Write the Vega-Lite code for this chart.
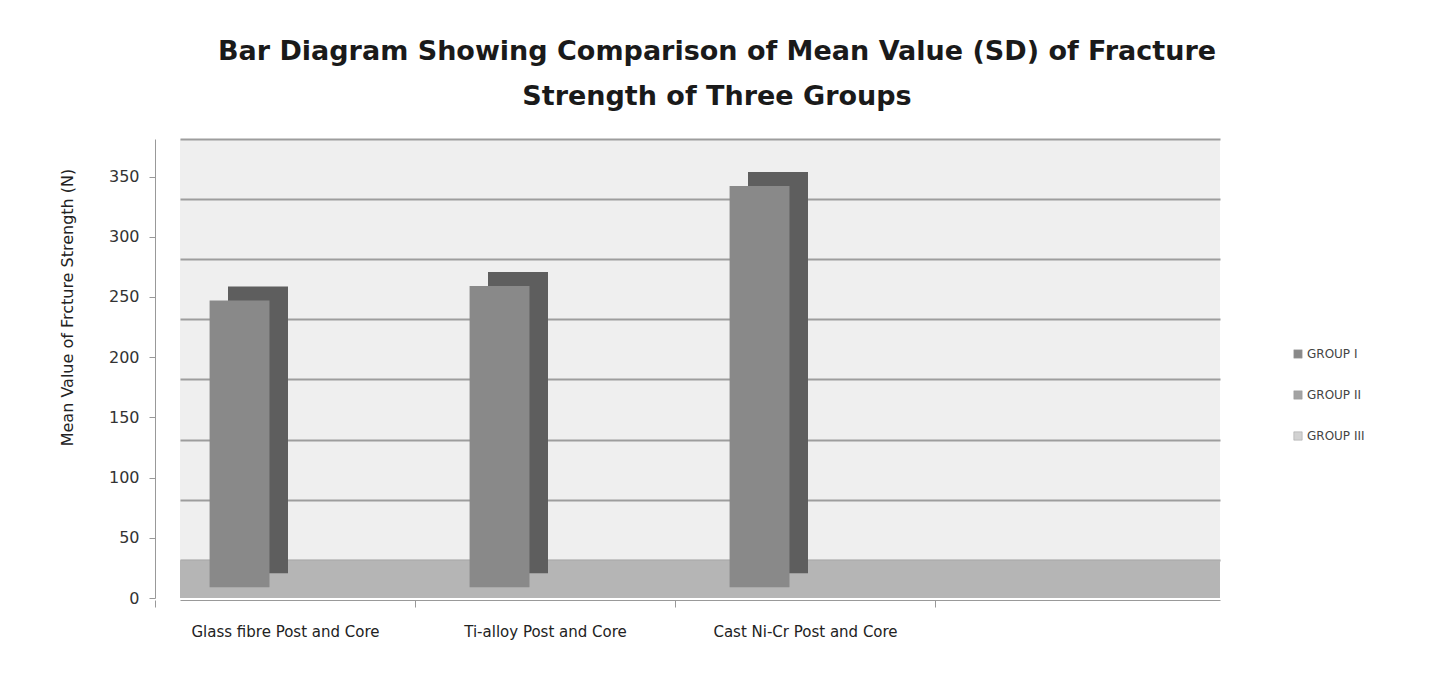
{
  "$schema": "https://vega.github.io/schema/vega-lite/v6.json",
  "width": 1040,
  "height": 459,
  "autosize": "none",
  "padding": {"left": 180, "top": 139, "right": 215, "bottom": 78},
  "background": "white",
  "title": {
    "text": ["Bar Diagram Showing Comparison of Mean Value (SD) of Fracture", "Strength of Three Groups"],
    "font": "DejaVu Sans",
    "fontSize": 27,
    "fontWeight": "bold",
    "color": "#1a1a1a",
    "lineHeight": 45,
    "anchor": "middle",
    "dx": 17,
    "offset": 28
  },
  "config": {
    "view": {"stroke": null, "fill": "#efefef"},
    "font": "DejaVu Sans"
  },
  "datasets": {
    "bars": [
      {"category": "Glass fibre Post and Core", "group": "GROUP I", "value": 238},
      {"category": "Ti-alloy Post and Core", "group": "GROUP I", "value": 250},
      {"category": "Cast Ni-Cr Post and Core", "group": "GROUP I", "value": 333}
    ]
  },
  "layer": [
    {
      "data": {"values": [{"part": "floor"}]},
      "mark": {"type": "rect", "color": "#b5b5b5"},
      "encoding": {
        "y": {
          "datum": -9,
          "type": "quantitative",
          "scale": {"domain": [-9, 372], "nice": false, "zero": false},
          "axis": {
            "values": [0, 50, 100, 150, 200, 250, 300, 350],
            "orient": "left",
            "grid": true,
            "gridColor": "#9d9d9d",
            "gridWidth": 2,
            "tickOffset": -27,
            "labels": false,
            "ticks": false,
            "domain": false,
            "title": null
          }
        },
        "y2": {"datum": 22.4}
      }
    },
    {
      "data": {"name": "bars"},
      "mark": {"type": "bar", "color": "#5e5e5e", "width": 60, "xOffset": -52, "yOffset": -14, "y2Offset": -14},
      "encoding": {
        "x": {"field": "category", "type": "nominal", "sort": null},
        "y": {"field": "value", "type": "quantitative", "axis": null}
      }
    },
    {
      "data": {"name": "bars"},
      "mark": {"type": "bar"},
      "encoding": {
        "x": {
          "field": "category",
          "type": "nominal",
          "sort": null,
          "scale": {
            "domain": ["Glass fibre Post and Core", "Ti-alloy Post and Core", "Cast Ni-Cr Post and Core", " "],
            "paddingInner": 0,
            "paddingOuter": 0
          },
          "axis": {
            "title": null,
            "labelAngle": 0,
            "labelAlign": "center",
            "labelFontSize": 15,
            "labelColor": "#222222",
            "labelPadding": 24,
            "labelLimit": 0,
            "labelOverlap": false,
            "tickOffset": -155,
            "labelOffset": 130,
            "tickSize": 7,
            "tickColor": "#999999",
            "domainColor": "#999999",
            "offset": 2
          }
        },
        "xOffset": {
          "field": "group",
          "type": "nominal",
          "scale": {"domain": ["GROUP I", "GROUP II", "GROUP III"], "paddingInner": 0.15, "paddingOuter": 0.42}
        },
        "y": {
          "field": "value",
          "type": "quantitative",
          "axis": {
            "orient": "left",
            "values": [0, 50, 100, 150, 200, 250, 300, 350],
            "grid": false,
            "offset": 25,
            "tickOffset": 11,
            "tickSize": 6,
            "tickColor": "#999999",
            "domainColor": "#999999",
            "labelFontSize": 16,
            "labelColor": "#333333",
            "labelPadding": 10,
            "title": "Mean Value of Frcture Strength (N)",
            "titleFontSize": 16,
            "titleFontWeight": "normal",
            "titleColor": "#222222",
            "titleX": -80,
            "titleY": 168
          }
        },
        "color": {
          "field": "group",
          "type": "nominal",
          "scale": {"domain": ["GROUP I", "GROUP II", "GROUP III"], "range": ["#898989", "#a3a3a3", "#d2d2d2"]},
          "legend": {
            "title": null,
            "orient": "none",
            "legendX": 1112,
            "legendY": 209,
            "symbolType": "square",
            "symbolSize": 70,
            "symbolStrokeColor": "#9a9a9a",
            "symbolStrokeWidth": 0.5,
            "labelFontSize": 12,
            "labelColor": "#444444",
            "rowPadding": 29,
            "labelOffset": 3
          }
        }
      }
    }
  ],
  "resolve": {"axis": {"y": "independent"}}
}
